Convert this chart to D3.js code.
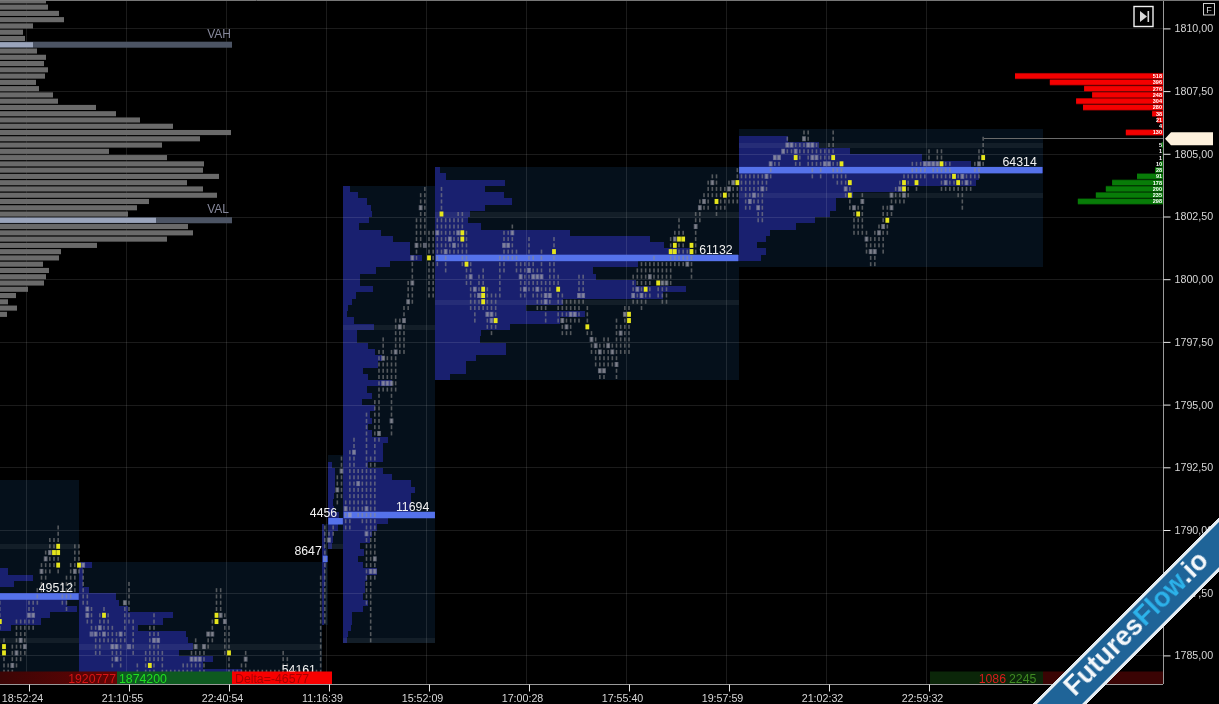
<!DOCTYPE html>
<html>
<head>
<meta charset="utf-8">
<script src="https://cdn.jsdelivr.net/npm/d3@7"></script>
<style>
html,body{margin:0;padding:0;background:#000;overflow:hidden}
svg{display:block}
text{font-family:"Liberation Sans",Arial,sans-serif}
</style>
</head>
<body>
<svg id="c" width="1219" height="704"></svg>
<script>
// ---------- axis labels ----------
const priceTicks = [1810,1807.5,1805,1802.5,1800,1797.5,1795,1792.5,1790,1787.5,1785];
const timeTickBars = [7,31,55,79,103,127,151,175,199,223];
const timeLabels = ["18:52:24","21:10:55","22:40:54","11:16:39","15:52:09","17:00:28","17:55:40","19:57:59","21:02:32","22:59:32"];

// ---------- price bars (bar index = position in array) ----------
const barHigh = [
1787,1785.5,1784.5,1785.25,1786.25,1786.25,1786.25,1787,1787,1787.5,
1788.5,1789,1789.5,1789.5,1790,1787.75,1788,1788.5,1789.25,1789.25,
1788.5,1787.25,1786.75,1786,1786.5,1786.75,1786.5,1786,1785.75,1785.75,
1787,1787.75,1786.25,1784.5,1784,1785,1786,1786.5,1785.75,1785,
1784.25,1784.25,1784.25,1784.25,1784.5,1784.5,1785,1785.5,1785,1785.25,
1785.75,1786.25,1787.5,1787.5,1786.5,1786,1784.25,1784.25,1784.5,1785,
1784.25,1784.25,1784.25,1784.25,1784.25,1784.25,1784.25,1784.25,1785,1784.75,
1784.25,1784.25,1784.25,1784.25,1784.25,1784.25,1784.25,1788,1790,1789.75,
1790,1792,1792.75,1791,1793,1793.5,1792.25,1792.25,1794.5,1792.75,
1795,1797,1797.5,1796.75,1797,1798.25,1798.25,1798.75,1799.75,1800.75,
1802.25,1803.25,1803.5,1801.75,1801.75,1802.25,1803.5,1802.25,1802.25,1802.25,
1802.5,1802.5,1801.75,1800.5,1799.5,1800,1800.25,1799.5,1799.25,1799.25,
1800.75,1801.75,1801.75,1802,1801,1800.5,1800.5,1801.5,1800.75,1800.25,
1801,1799.75,1800.5,1801.5,1800,1799.25,1799,1799,1799,1800,
1800,1798.75,1797.75,1797.5,1797.25,1797.5,1797.5,1797.25,1798.25,1798,
1798.75,1798.75,1800,1800.25,1800.5,1800.5,1800.5,1800.75,1800.5,1800.5,
1800.5,1801.5,1801.75,1802.25,1801.75,1801,1801.25,1802.5,1803,1803.25,
1803.75,1804,1804,1803.5,1803.5,1803.75,1803.75,1804.25,1804,1804,
1804,1804,1804,1804,1804,1804.5,1804.75,1804.75,1805,1805.5,
1805.25,1805.25,1805.25,1805.75,1805.75,1805.25,1805.25,1805,1805,1805.25,
1805.75,1804.5,1804.5,1804,1803.75,1802.75,1802.75,1803.25,1801.75,1801.5,
1801.75,1802,1802.75,1802.75,1803.25,1803.5,1803.75,1804,1804,1804.5,
1804.5,1804.5,1804.5,1805,1804.5,1805,1805,1804.5,1804.5,1804,
1804,1804,1804,1804,1804.5,1805,1805.5];
const barLow = [
1786,1784,1784,1784.25,1784.5,1784.75,1785,1786,1786,1787,
1787.5,1788,1788.25,1788.5,1788.25,1787,1786.75,1787.25,1787.5,1788.25,
1787,1786.25,1786,1785,1785,1785.5,1785.5,1784.5,1784.75,1784.5,
1785.5,1786.25,1785,1784,1784,1784,1784,1784,1784.75,1784,
1784,1784,1784,1784,1784.25,1784.25,1784,1784.5,1784.25,1784.25,
1785.25,1785.5,1786.25,1786.5,1785,1784,1784,1784,1784.25,1784.25,
1784,1784,1784,1784,1784,1784,1784,1784,1784,1784,
1784,1784,1784,1784,1784,1784,1784,1784.25,1786.25,1789.5,
1789.75,1791,1791.25,1790,1790,1790.75,1790.5,1790.25,1787,1785.5,
1788,1793.5,1795.5,1795.5,1793.75,1795.5,1797,1797,1798.75,1799,
1800.75,1801.25,1801.75,1799.25,1799.25,1800.5,1801,1800.25,1801,1801,
1801,1800.5,1799.75,1798.75,1798.25,1798.75,1798.75,1798,1797.75,1798,
1799.25,1800.25,1800.75,1800.75,1800.25,1799.25,1799.25,1799.5,1799.25,1798.75,
1798.75,1798.25,1799,1799.75,1798.25,1797.75,1797.75,1797.75,1798.25,1798.25,
1799,1797.75,1797,1796.5,1796,1796,1796.5,1796.5,1796,1797,
1797,1797,1799,1799,1798.75,1799,1799.25,1800,1799.25,1799,
1799,1799.75,1800.5,1800.5,1800.5,1800.5,1800,1801,1802.25,1802.75,
1802.75,1803.25,1802.5,1802.75,1802.75,1803,1803,1803,1803.5,1802.75,
1802.75,1803,1802.25,1802.25,1803.5,1804,1804.5,1804.5,1805,1805,
1805,1804.5,1804.5,1805,1804.5,1804,1804.5,1804,1804.5,1804.5,
1804,1803.75,1803.75,1803.25,1802.75,1801.75,1801.75,1801.75,1801,1800.5,
1800.5,1801.25,1801,1801.75,1802.5,1803,1803,1803,1803.25,1804,
1803.5,1804,1804,1804.5,1804,1804,1803.5,1803.5,1803.5,1803.5,
1803.25,1802.75,1803.5,1803.5,1804,1804,1804.5];

// highlighted cells: [bar index, price]
const yellowCells = [[13,1789],[14,1789],[14,1789.25],[14,1788.5],[19,1788.5],[0,1786.25],[1,1785.25],[1,1785],[25,1786.5],[36,1784.5],
[52,1786.5],[52,1786.25],[55,1785],[103,1800.75],[106,1802.5],[111,1801.75],[111,1801.5],[112,1800.5],[116,1799.5],[116,1799.25],[116,1799],
[119,1798.25],[133,1801],[134,1799.5],[141,1798],[151,1798.5],[151,1798.25],[155,1799.5],[158,1799.75],[161,1801],[162,1801],[162,1801.25],
[163,1801.5],[164,1801.5],[166,1801],[166,1801.25],[172,1803],[174,1803.25],[177,1803.75],[191,1804.75],[200,1804.75],[202,1804.5],[204,1803.75],
[204,1803.25],[206,1802.5],[213,1802.25],[217,1803.75],[217,1803.5],[220,1803.75],[226,1804.5],[229,1804],[230,1803.75],[236,1804.75]];
const brightCells = [[11,1788.75],[10,1788.25],[12,1789],[18,1788.25],[7,1786.5],[8,1786.5],[5,1785.5],[6,1785.25],[4,1785],[3,1784.5],
[20,1788.5],[21,1786.75],[21,1786.5],[22,1785.75],[23,1785.75],[24,1786],[25,1785.75],[27,1785.25],[28,1785.25],[28,1784.75],[29,1785.75],[30,1787],[31,1785.25],[37,1785.5],[38,1785.5],
[47,1785.25],[49,1785.25],[50,1785.75],[51,1785.75],[53,1786.5],[54,1786.25],[59,1784.75],[46,1784.75],[47,1784.75],[48,1784.75],
[79,1789.5],[81,1791.5],[82,1792.25],[83,1790.75],[84,1790.5],[85,1793],[86,1791.75],[88,1790.75],[88,1789.75],[89,1788.25],[90,1788.25],[90,1788.75],[91,1793.75],[94,1794.25],
[92,1795.75],[93,1795.75],[94,1795.75],[92,1796.75],[95,1797],[96,1798],[97,1798.25],[98,1799],[99,1799.75],[100,1801.25],[102,1801.25],[101,1802.75],[99,1800.75],
[105,1801.75],[107,1801],[108,1801.5],[109,1801.25],[110,1801.75],[113,1800],[114,1799.5],[115,1799.25],[116,1799.25],[117,1798.5],[118,1798.5],[118,1798.25],[121,1801.25],[122,1801.25],[123,1801.75],
[125,1800],[126,1799.5],[127,1800.25],[128,1800],[129,1800],[130,1800],[129,1799.5],[131,1799.25],[132,1799.25],[131,1799],[135,1798.25],[136,1798],[137,1798.5],[138,1798.5],[139,1799.25],[140,1799.25],
[142,1797.5],[143,1797.25],[144,1797],[144,1796.25],[145,1796.25],[146,1797.25],[147,1797],[148,1796.5],[149,1797.75],[150,1798.5],[152,1799.25],[154,1799.25],[153,1799.5],[156,1800],[159,1799.75],[160,1799.75],
[162,1801.5],[165,1800.5],[167,1802],[168,1802.75],[169,1803],[171,1803.75],[175,1803.5],[176,1803.75],[180,1803],[181,1803.25],[182,1802.75],[183,1803.5],[184,1804],[185,1804.5],[186,1804.75],[187,1804.75],
[188,1805],[189,1805.25],[190,1805.25],[191,1805],[193,1805.5],[194,1805.25],[195,1805.25],[195,1804.75],[196,1804.75],[198,1804.5],[199,1804.5],[203,1803.5],[205,1802.75],[207,1803],[208,1801.5],[209,1801],[210,1801],
[211,1801.75],[212,1802],[214,1802.75],[214,1803.25],[216,1803.5],[217,1803.25],[222,1804.5],[223,1804.5],[224,1804.5],[225,1804.5],[227,1803.75],[231,1804],[232,1803.75],[235,1804.5]];

// ---------- session profiles: rows run downward from the top row price ----------
const s1Start=-54, s1End=19,   s1Top=1788.25, s1Poc=1787.25, s1PocVol=49512, s1BoxHi=1791.75, s1BoxLo=1783.5;
const s1Vols=[37950,42000,38900,36650,49512,47550,49200,44800,43300,38400,30000,30000,30000,30000,30000,30000,30000,30000,30000,30000,30000];
const s1Va=[1789.25,1785.5];

const s2Start=19.05, s2End=77.3, s2Top=1788.5, s2Poc=1784, s2PocVol=54161, s2BoxHi=1788.5, s2BoxLo=1783.5;
const s2Vols=[2900,890,890,890,2230,8250,8920,10900,20950,18700,13150,23850,24300,25400,22300,29900,27600,36300,54161];
const s2Va=[1785.25];

const s2bStart=77.4, s2bEnd=78.7, s2bTop=1790, s2bPoc=1788.75, s2bPocVol=8647, s2bBoxHi=1790, s2bBoxLo=1786.25;
const s2bVols=[3000,4000,4500,5000,6000,8647,5500,5000,4000,3500,3000,3000,2500,2500,2000,2000];
const s2bVa=[];

const s3Start=78.7, s3End=82.4, s3Top=1792.5, s3Poc=1790.25, s3PocVol=4456, s3BoxHi=1792.75, s3BoxLo=1789.25;
const s3Vols=[1100,2230,2230,2230,2230,1950,1390,1670,3340,4456,3060,1390,1390,1110];
const s3Va=[1789.25];

const s4Start=82.4, s4End=104.5, s4Top=1803.5, s4Poc=1790.5, s4PocVol=11694, s4BoxHi=1803.5, s4BoxLo=1785.5;
const s4Vols=[890,1900,3050,3560,3690,3300,2030,4830,6360,8520,8520,10040,5980,4200,2160,2160,3810,1650,1140,640,510,1400,3940,1780,1780,3180,4070,4960,4450,2540,3180,6230,3050,3690,2420,4070,3430,
3690,3180,3690,5720,5080,5080,5080,3180,5080,6230,8640,9150,8640,8640,8640,11694,5720,4320,3690,3430,2160,2670,1900,2540,4320,3050,2800,2800,2540,3180,2540,1140,1140,1020,640,510];
const s4Va=[1798,1785.5];

const s5Start=104.5, s5End=177.3, s5Top=1804.25, s5Poc=1800.75, s5PocVol=61132, s5BoxHi=1804.25, s5BoxLo=1796;
const s5Vols=[1000,2200,14100,10000,13900,15500,10000,7000,6600,9200,27100,43200,46200,51300,61132,40800,31800,32400,40400,50500,45800,25700,18300,30200,25100,15100,9200,9000,14300,14300,8200,6200,6200,3000];
const s5Va=[1802.5,1799];

const s6Start=177.3, s6End=250.3, s6Top=1805.5, s6Poc=1804.25, s6PocVol=64314, s6BoxHi=1805.75, s6BoxLo=1800.5;
const s6Vols=[10400,16900,23500,38700,49100,64314,50800,50100,35300,24100,20500,20700,19300,16100,12100,6600,5700,3800,5900,4700];
const s6Va=[1805.25,1803.25];

// ---------- composite profile at the left ----------
const compTop=1811, compVah=1809.25, compVal=1802.25, compSpan=232000;
const compVols=[46000,48000,59000,64000,33000,23000,25000,33000,37000,46000,44000,48000,45000,36000,39000,53000,58000,96000,116000,140000,173000,231000,200000,162000,109000,167000,204000,203000,219000,187000,203000,217000,149000,137000,128000,156000,188000,193000,167000,97000,61000,59000,43000,49000,46000,44000,28000,16000,8000,17000,7000];

// ---------- depth of market ----------
const askPrices=[1808,1807.75,1807.5,1807.25,1807,1806.75,1806.5,1806.25,1806,1805.75];
const askSizes=[518,396,276,248,304,280,38,21,4,130];
const bidPrices=[1805.25,1805,1804.75,1804.5,1804.25,1804,1803.75,1803.5,1803.25,1803];
const bidSizes=[5,1,1,10,28,91,178,200,235,298];
const lastPrice=1805.5;

// ---------- delta strip ----------
const sellTotal="1920777", buyTotal="1874200", deltaText="Delta=-46577", sessionSell="1086", sessionBuy="2245";

// ---------- scales ----------
const W=1163, H=684, rowShift=0.1;
const svg=d3.select("#c");
const y=d3.scaleLinear().domain([1810,1785]).range([28.4,655.4]);
const x=d3.scaleLinear().domain([0,240]).range([-0.17,999.83]);
const rowH=y(0)-y(0.25);
const ry=p=>y(p+rowShift);
const rowTop=p=>Math.round(ry(p)-rowH/2);
const rowBot=p=>Math.round(ry(p)+rowH/2);
const fmt=d3.formatLocale({decimal:",",thousands:".",grouping:[3],currency:["",""]}).format(".2f");

svg.append("rect").attr("width",1219).attr("height",704).attr("fill","#000");
const defs=svg.append("defs");
defs.append("clipPath").attr("id","plot").append("rect").attr("width",W).attr("height",H);
const grad=defs.append("linearGradient").attr("id","sellGrad");
grad.append("stop").attr("offset","0").attr("stop-color","#3c0505");
grad.append("stop").attr("offset","1").attr("stop-color","#640404");
const soft=defs.append("filter").attr("id","soft").attr("x","0").attr("y","0").attr("width","1").attr("height","1").attr("filterUnits","objectBoundingBox");
soft.append("feGaussianBlur").attr("stdDeviation",0.35);

const plot=svg.append("g").attr("clip-path","url(#plot)");

// ---------- sessions ----------
const sessions=[
 {start:s1Start,end:s1End,top:s1Top,poc:s1Poc,pocVol:s1PocVol,hi:s1BoxHi,lo:s1BoxLo,vols:s1Vols,va:s1Va},
 {start:s2Start,end:s2End,top:s2Top,poc:s2Poc,pocVol:s2PocVol,hi:s2BoxHi,lo:s2BoxLo,vols:s2Vols,va:s2Va},
 {start:s2bStart,end:s2bEnd,top:s2bTop,poc:s2bPoc,pocVol:s2bPocVol,hi:s2bBoxHi,lo:s2bBoxLo,vols:s2bVols,va:s2bVa},
 {start:s3Start,end:s3End,top:s3Top,poc:s3Poc,pocVol:s3PocVol,hi:s3BoxHi,lo:s3BoxLo,vols:s3Vols,va:s3Va},
 {start:s4Start,end:s4End,top:s4Top,poc:s4Poc,pocVol:s4PocVol,hi:s4BoxHi,lo:s4BoxLo,vols:s4Vols,va:s4Va},
 {start:s5Start,end:s5End,top:s5Top,poc:s5Poc,pocVol:s5PocVol,hi:s5BoxHi,lo:s5BoxLo,vols:s5Vols,va:s5Va},
 {start:s6Start,end:s6End,top:s6Top,poc:s6Poc,pocVol:s6PocVol,hi:s6BoxHi,lo:s6BoxLo,vols:s6Vols,va:s6Va}
];
sessions.forEach(s=>{
  const g=plot.append("g").attr("shape-rendering","crispEdges");
  const x0=x(s.start), x1=x(s.end);
  g.append("rect").attr("x",x0).attr("width",x1-x0)
    .attr("y",rowTop(s.hi)).attr("height",rowBot(s.lo)-rowTop(s.hi))
    .attr("fill","#05101b");
  const vx=d3.scaleLinear().domain([0,s.pocVol]).range([0,x1-x0]);
  g.selectAll(".pr").data(s.vols).join("rect")
    .attr("x",x0).attr("y",(d,i)=>rowTop(s.top-i*0.25))
    .attr("width",d=>vx(d)).attr("height",(d,i)=>rowBot(s.top-i*0.25)-rowTop(s.top-i*0.25)).attr("fill","#19206f");
  g.selectAll(".va").data(s.va).join("rect")
    .attr("x",x0).attr("width",x1-x0).attr("y",d=>rowTop(d)+1).attr("height",d=>rowBot(d)-rowTop(d)-1)
    .attr("fill","#fff").attr("opacity",0.06);
});

// ---------- grid ----------
const grid=plot.append("g").attr("stroke","#fff").attr("stroke-opacity",0.105).attr("shape-rendering","crispEdges");
grid.selectAll(".h").data(priceTicks).join("line")
  .attr("x1",0).attr("x2",W).attr("y1",d=>Math.round(y(d))+0.5).attr("y2",d=>Math.round(y(d))+0.5);
grid.selectAll(".v").data(timeTickBars).join("line")
  .attr("x1",d=>Math.round(x(d))-2.5).attr("x2",d=>Math.round(x(d))-2.5).attr("y1",0).attr("y2",H);

// ---------- price bars ----------
const dashes=[];
barHigh.forEach((hi,i)=>{ d3.range(hi,barLow[i]-0.01,-0.25).forEach(p=>dashes.push([i,p])); });
const barLayer=plot.append("g").attr("filter","url(#soft)");
barLayer.append("g").selectAll("rect").data(dashes).join("rect")
  .attr("x",d=>x(d[0])-0.8).attr("width",1.6)
  .attr("y",d=>ry(d[1])-2).attr("height",4)
  .attr("fill","#8a8a8a").attr("opacity",0.6);
barLayer.append("g").selectAll("rect").data(brightCells).join("rect")
  .attr("x",d=>x(d[0])-1.9).attr("width",3.8)
  .attr("y",d=>ry(d[1])-2.5).attr("height",5)
  .attr("fill","#a6a6b4").attr("opacity",0.55);

// ---------- POC bars and their labels ----------
const pocColor="#5572ea";
sessions.forEach(s=>{
  const x0=x(s.start), x1=x(s.end);
  plot.append("rect").attr("x",x0+0.5).attr("width",x1-x0-0.8)
    .attr("y",ry(s.poc)-3.2).attr("height",6.5).attr("fill",pocColor);
});
barLayer.append("g").selectAll("rect").data(yellowCells).join("rect")
  .attr("x",d=>x(d[0])-1.9).attr("width",3.8)
  .attr("y",d=>ry(d[1])-2.5).attr("height",5)
  .attr("fill","#e6e61e");
barLayer.raise();
plot.selectAll(".poclbl").data(sessions).join("text")
  .attr("x",s=>x(s.end)-6).attr("y",s=>ry(s.poc)-4.2)
  .attr("text-anchor","end").attr("font-size",12.3).attr("fill","#f2f2f2")
  .text(s=>s.pocVol);

// ---------- composite profile ----------
const cx=d3.scaleLinear().domain([0,compSpan]).range([0,232]);
const comp=plot.append("g");
comp.selectAll("rect").data(compVols).join("rect")
  .attr("x",0).attr("y",(d,i)=>ry(compTop-i*0.25)-2.5).attr("width",d=>cx(d)).attr("height",5.1)
  .attr("fill",(d,i)=>{const p=compTop-i*0.25;return (p===compVah||p===compVal)?"#9aa4bb":"#6a6a6a";});
[compVah,compVal].forEach(p=>{
  comp.append("rect").attr("x",0).attr("width",cx(compSpan)).attr("y",ry(p)-3).attr("height",6).attr("fill","#4c5464").lower();
});
comp.append("text").attr("x",231).attr("y",ry(compVah)-7).attr("text-anchor","end").attr("font-size",12).attr("fill","#85879a").text("VAH");
comp.append("text").attr("x",229).attr("y",ry(compVal)-7).attr("text-anchor","end").attr("font-size",12).attr("fill","#85879a").text("VAL");

// ---------- depth of market ----------
const dx=d3.scaleLinear().domain([0,3.5]).range([0,1]);
function dom(prices,sizes,fill,edge){
  const g=plot.append("g");
  g.selectAll("rect.e").data(sizes).join("rect")
    .attr("x",d=>W-dx(d)).attr("width",d=>dx(d))
    .attr("y",(d,i)=>ry(prices[i])-rowH/2).attr("height",rowH).attr("fill",edge);
  g.selectAll("rect.f").data(sizes).join("rect")
    .attr("x",d=>W-dx(d)).attr("width",d=>dx(d))
    .attr("y",(d,i)=>ry(prices[i])-2.4).attr("height",4.8).attr("fill",fill);
  g.selectAll("text").data(sizes).join("text")
    .attr("x",W-1).attr("y",(d,i)=>ry(prices[i])+2)
    .attr("text-anchor","end").attr("font-size",5.5).attr("font-weight","bold").attr("fill","#fff").text(d=>d);
}
dom(askPrices,askSizes,"#f40000","#8a0000");
dom(bidPrices,bidSizes,"#087c08","#044404");

// last-price line
const lastX=x(barHigh.length-1);
plot.append("line").attr("x1",lastX+1).attr("x2",W).attr("y1",Math.round(ry(lastPrice))-0.5).attr("y2",Math.round(ry(lastPrice))-0.5)
  .attr("stroke","#6a6a6a").attr("shape-rendering","crispEdges");

// ---------- bottom strips ----------
const strip=svg.append("g");
const sy=671.5, sh=12.5;
strip.append("rect").attr("x",0).attr("y",sy).attr("width",117).attr("height",sh).attr("fill","url(#sellGrad)");
strip.append("rect").attr("x",117).attr("y",sy).attr("width",115).attr("height",sh).attr("fill","#0e5a20");
strip.append("rect").attr("x",232).attr("y",sy).attr("width",100).attr("height",sh).attr("fill","#f80000");
strip.append("rect").attr("x",930).attr("y",sy).attr("width",113).attr("height",sh).attr("fill","#0b2609");
strip.append("rect").attr("x",1043).attr("y",sy).attr("width",120).attr("height",sh).attr("fill","#3a0404");
const stxt=(tx,anchor,fill,t)=>strip.append("text").attr("x",tx).attr("y",683).attr("text-anchor",anchor).attr("font-size",12.3).attr("fill",fill).text(t);
stxt(116,"end","#d81414",sellTotal);
stxt(119,"start","#20e020",buyTotal);
stxt(235,"start","#a80000",deltaText);
stxt(1006,"end","#d81c1c",sessionSell);
stxt(1009,"start","#3f8a22",sessionBuy);

// ---------- axes ----------
const yAxis=d3.axisRight(y).tickValues(priceTicks).tickFormat(d=>fmt(d)).tickSize(7).tickPadding(4);
const gy=svg.append("g").attr("transform",`translate(${W}.5,0)`).call(yAxis);
gy.select(".domain").attr("d",`M0,0V${H}`).attr("stroke","#9a9a9a");
gy.selectAll(".tick line").attr("stroke","#e8e8e8");
gy.selectAll(".tick text").attr("fill","#d6d6d6").attr("font-size",10.7).attr("font-family","'Liberation Sans',Arial,sans-serif");

const xAxis=d3.axisBottom(x).tickValues(timeTickBars).tickFormat((d,i)=>timeLabels[i]).tickSize(7).tickPadding(3);
const gx=svg.append("g").attr("transform",`translate(0,${H}.5)`).call(xAxis);
gx.select(".domain").attr("d",`M0,0H${W}`).attr("stroke","#9a9a9a");
gx.selectAll(".tick line").attr("stroke","#e8e8e8");
gx.selectAll(".tick text").attr("fill","#d6d6d6").attr("font-size",10.7).attr("font-family","'Liberation Sans',Arial,sans-serif").attr("dx",-7);

svg.append("line").attr("x1",0).attr("x2",1219).attr("y1",0.5).attr("y2",0.5).attr("stroke","#777");

// ---------- last-price tag ----------
const ty=ry(lastPrice);
svg.append("path").attr("d",`M1165,${ty} L1171,${ty-6.5} H1213 V${ty+6.5} H1171 Z`).attr("fill","#fdf0dc");

// ---------- buttons ----------
svg.append("rect").attr("x",1134).attr("y",6.5).attr("width",19).attr("height",20).attr("fill","#000").attr("stroke","#f0f0f0").attr("stroke-width",1.4);
svg.append("path").attr("d","M1140,11 L1147,16.5 L1140,22 Z").attr("fill","#d8d8d8");
svg.append("rect").attr("x",1147.5).attr("y",11).attr("width",1.6).attr("height",11).attr("fill","#d8d8d8");
svg.append("rect").attr("x",1203.5).attr("y",3.5).attr("width",11).attr("height",11.5).attr("fill","none").attr("stroke","#cfcfcf");
svg.append("text").attr("x",1209).attr("y",12.5).attr("text-anchor","middle").attr("font-size",9).attr("fill","#d8d8d8").text("F");

// ---------- watermark ----------
const wm=svg.append("g").attr("transform","translate(1131,632.5) rotate(-45)");
wm.append("rect").attr("x",-260).attr("y",-19).attr("width",520).attr("height",38).attr("fill","#e4ecf2");
wm.append("rect").attr("x",-260).attr("y",-16).attr("width",520).attr("height",32).attr("fill","#1f6498");
const wt=wm.append("text").attr("x",10).attr("y",6).attr("text-anchor","middle").attr("font-size",27).attr("font-weight","bold");
wt.append("tspan").attr("fill","#f4f8fb").text("Futures");
wt.append("tspan").attr("fill","#2cb2ea").text("Flow");
wt.append("tspan").attr("fill","#f4f8fb").text(".io");
</script>
</body>
</html>
